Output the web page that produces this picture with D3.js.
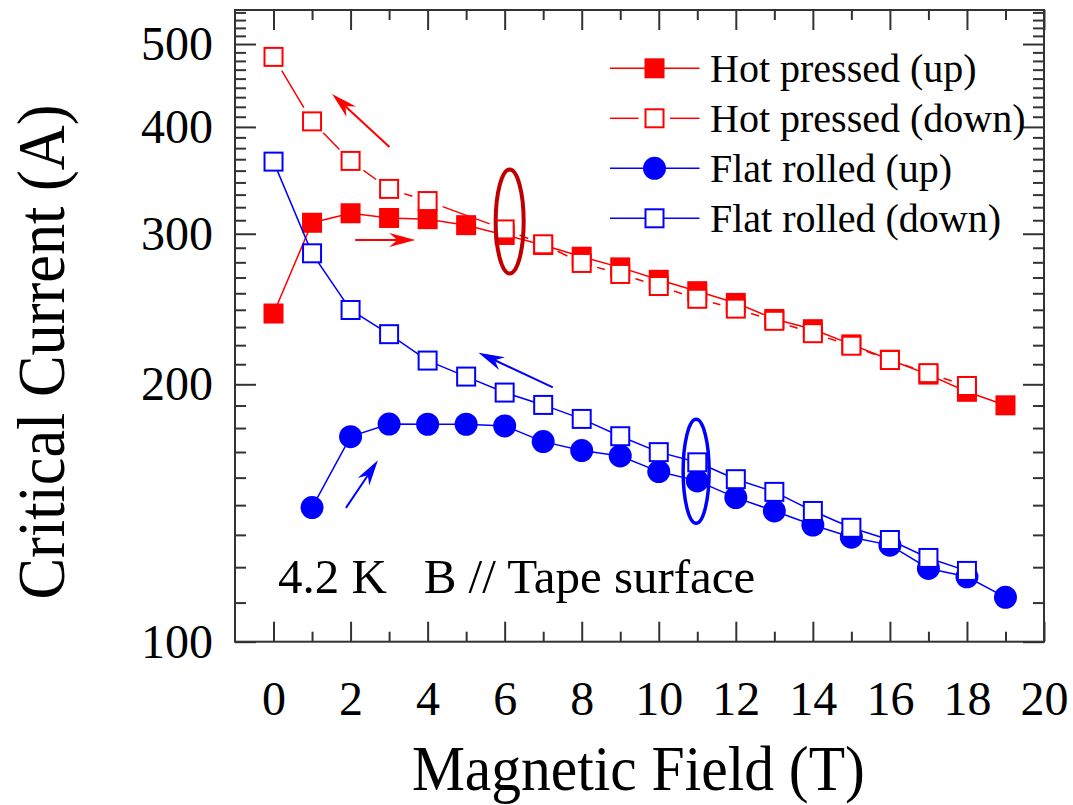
<!DOCTYPE html>
<html>
<head>
<meta charset="utf-8">
<script src="https://cdn.jsdelivr.net/npm/d3@7"></script>
<style>
  body { margin: 0; background: #fff; }
  svg { font-family: 'Liberation Serif', 'Times New Roman', serif; }
</style>
</head>
<body>
<div class="chart"></div>
<script>
// field values (T)
var fields = d3.range(0, 20);

// critical current (A), null = no point
var hotUp = [242, 309, 317, 313, 312, 307, 299, 291, 282, 274, 265, 257, 249, 238.5, 232, 222.7, 213.7, 205.3, 196, 189];
var hotDown = [483, 406, 365, 338.5, 327.6, null, 303.5, 291.6, 277.3, 269.2, 260.6, 251.8, 245.2, 237.3, 229.5, 221.9, 213.5, 206.1, 199.1, null];
var flatUp = [null, 143.5, 173.7, 179.7, 179.6, 179.6, 178.8, 171.4, 167.3, 164.9, 158.1, 154.2, 147.4, 142.2, 136.9, 132.5, 129.7, 121.8, 119.1, 112.7];
var flatDown = [364.3, 284.6, 244.3, 228.9, 213.2, 204.2, 195.6, 189.2, 182.2, 173.9, 166.6, 162.1, 154.9, 149.7, 142.2, 135.9, 131.5, 125.3, 121, null];

var seriesNames = ['Hot pressed (up)', 'Hot pressed (down)', 'Flat rolled (up)', 'Flat rolled (down)'];

var xMajor = d3.range(0, 21, 2);
var xMinor = d3.range(1, 20, 2);
var yMajor = [100, 200, 300, 400, 500];

// arrows [x1, y1, x2, y2] in data units, head at the second point
var redArrows = [[3.01, 379, 1.52, 437], [2.12, 295, 3.68, 295]];
var blueArrows = [[1.88, 143.4, 2.71, 163], [7.25, 198.4, 5.32, 217.8]];
// ellipse centres
var redOval = [6.13, 310];
var blueOval = [10.97, 158.2];

var W = 1073, H = 805;
var margin = { top: 10, left: 235, right: 29 };
var width = W - margin.left - margin.right;   // 809
var height = 631.7;

var RED = '#ff0000', BLUE = '#0000ff', AX = '#333';

var svg = d3.select('.chart').append('svg')
  .attr('width', W).attr('height', H);
var g = svg.append('g')
  .attr('transform', 'translate(' + margin.left + ',' + margin.top + ')');

var x = d3.scaleLinear().domain([-1, 20]).range([0, width]);
var y = d3.scaleLog().domain([100, 548]).range([height, 0]);

// minor y ticks: 8 per major step, linear in value
var yMinor = [];
yMajor.forEach(function (m) {
  for (var i = 1; i <= 8; i++) {
    var v = m + 100 * i / 9;
    if (v < 548) yMinor.push(v);
  }
});

function styleAxis(sel) {
  sel.select('.domain').remove();
  sel.selectAll('line').attr('stroke', AX).attr('stroke-width', 2);
  sel.selectAll('text').attr('fill', '#000').style('font-size', '48px')
    .style('font-family', "'Liberation Serif', 'Times New Roman', serif");
}

// bottom
g.append('g').attr('transform', 'translate(0,' + height + ')')
  .call(d3.axisBottom(x).tickValues(xMajor).tickSize(-20).tickPadding(39).tickFormat(d3.format('d')))
  .call(styleAxis);
g.append('g').attr('transform', 'translate(0,' + height + ')')
  .call(d3.axisBottom(x).tickValues(xMinor).tickSize(-10).tickFormat(''))
  .call(styleAxis);
// top
g.append('g')
  .call(d3.axisTop(x).tickValues(xMajor).tickSize(-20).tickFormat(''))
  .call(styleAxis);
g.append('g')
  .call(d3.axisTop(x).tickValues(xMinor).tickSize(-10).tickFormat(''))
  .call(styleAxis);
// left
g.append('g')
  .call(d3.axisLeft(y).tickValues(yMajor).tickSize(-21).tickPadding(22).tickFormat(d3.format('d')))
  .call(styleAxis);
g.append('g')
  .call(d3.axisLeft(y).tickValues(yMinor).tickSize(-11).tickFormat(''))
  .call(styleAxis);
// right
g.append('g').attr('transform', 'translate(' + width + ',0)')
  .call(d3.axisRight(y).tickValues(yMajor).tickSize(-21).tickFormat(''))
  .call(styleAxis);
g.append('g').attr('transform', 'translate(' + width + ',0)')
  .call(d3.axisRight(y).tickValues(yMinor).tickSize(-11).tickFormat(''))
  .call(styleAxis);

g.append('rect')
  .attr('width', width).attr('height', height)
  .attr('fill', 'none').attr('stroke', AX).attr('stroke-width', 2);

function pts(vals) {
  return fields.map(function (f, i) { return { f: f, v: vals[i] }; })
    .filter(function (d) { return d.v != null; });
}

var line = d3.line()
  .x(function (d) { return x(d.f); })
  .y(function (d) { return y(d.v); });

// lines with a gap around each marker
function gappedLine(sel, data, color, trim) {
  for (var i = 0; i < data.length - 1; i++) {
    var x1 = x(data[i].f), y1 = y(data[i].v), x2 = x(data[i + 1].f), y2 = y(data[i + 1].v);
    var dx = x2 - x1, dy = y2 - y1, len = Math.sqrt(dx * dx + dy * dy);
    if (len <= 2 * trim) continue;
    var ux = dx / len, uy = dy / len;
    sel.append('line')
      .attr('x1', x1 + ux * trim).attr('y1', y1 + uy * trim)
      .attr('x2', x2 - ux * trim).attr('y2', y2 - uy * trim)
      .attr('stroke', color).attr('stroke-width', 1.5);
  }
}

function squares(data, cls, size, fill, stroke) {
  g.selectAll('.' + cls).data(data).enter().append('rect')
    .attr('class', cls)
    .attr('x', function (d) { return x(d.f) - size / 2; })
    .attr('y', function (d) { return y(d.v) - size / 2; })
    .attr('width', size).attr('height', size)
    .attr('fill', fill)
    .attr('stroke', stroke)
    .attr('stroke-width', stroke === 'none' ? 0 : 2);
}

// Hot pressed (up)
var hu = pts(hotUp);
g.append('path').attr('d', line(hu)).attr('fill', 'none').attr('stroke', RED).attr('stroke-width', 1.5);
squares(hu, 'hu', 20, RED, 'none');

// Hot pressed (down)
var hd = pts(hotDown);
gappedLine(g.append('g'), hd, RED, 16);
squares(hd, 'hd', 18, '#fff', RED);

// Flat rolled (up)
var fu = pts(flatUp);
g.append('path').attr('d', line(fu)).attr('fill', 'none').attr('stroke', BLUE).attr('stroke-width', 1.5);
g.selectAll('.fu').data(fu).enter().append('circle')
  .attr('class', 'fu')
  .attr('cx', function (d) { return x(d.f); })
  .attr('cy', function (d) { return y(d.v); })
  .attr('r', 11.5)
  .attr('fill', BLUE);

// Flat rolled (down)
var fd = pts(flatDown);
g.append('path').attr('d', line(fd)).attr('fill', 'none').attr('stroke', BLUE).attr('stroke-width', 1.5);
squares(fd, 'fd', 18, '#fff', BLUE);

// ovals
g.append('ellipse')
  .attr('cx', x(redOval[0])).attr('cy', y(redOval[1]))
  .attr('rx', 14).attr('ry', 52)
  .attr('fill', 'none').attr('stroke', '#c00000').attr('stroke-width', 4);
g.append('ellipse')
  .attr('cx', x(blueOval[0])).attr('cy', y(blueOval[1]))
  .attr('rx', 13).attr('ry', 52)
  .attr('fill', 'none').attr('stroke', BLUE).attr('stroke-width', 3.5);

// arrows
function arrow(a, color) {
  var x1 = x(a[0]), y1 = y(a[1]), x2 = x(a[2]), y2 = y(a[3]);
  var ang = Math.atan2(y2 - y1, x2 - x1);
  var L = 26, hw = 7, notch = 18;
  function p(dl, dw) {
    return [x2 + Math.cos(ang) * dl - Math.sin(ang) * dw,
            y2 + Math.sin(ang) * dl + Math.cos(ang) * dw];
  }
  var nb = p(-notch, 0);
  g.append('line')
    .attr('x1', x1).attr('y1', y1).attr('x2', nb[0]).attr('y2', nb[1])
    .attr('stroke', color).attr('stroke-width', 2);
  g.append('polygon')
    .attr('points', [p(0, 0), p(-L, hw), nb, p(-L, -hw)].map(function (q) { return q.join(','); }).join(' '))
    .attr('fill', color);
}
redArrows.forEach(function (a) { arrow(a, RED); });
blueArrows.forEach(function (a) { arrow(a, BLUE); });

// annotation
g.append('text')
  .attr('x', x(-1) + 43).attr('y', 592.7 - margin.top)
  .style('font-size', '49px')
  .style('white-space', 'pre')
  .text('4.2 K   B // Tape surface');

// legend
var leg = svg.append('g').attr('transform', 'translate(610,68.3)');
seriesNames.forEach(function (name, i) {
  var row = leg.append('g').attr('transform', 'translate(0,' + (i * 50) + ')');
  var color = i < 2 ? RED : BLUE;
  if (i === 1) {
    row.append('line').attr('x1', 0).attr('x2', 28.5).attr('stroke', color).attr('stroke-width', 1.5);
    row.append('line').attr('x1', 60).attr('x2', 89.5).attr('stroke', color).attr('stroke-width', 1.5);
  } else {
    row.append('line').attr('x1', 0).attr('x2', 89.5).attr('stroke', color).attr('stroke-width', 1.5);
  }
  if (i === 0) {
    row.append('rect').attr('x', 34.5).attr('y', -10).attr('width', 20).attr('height', 20).attr('fill', RED);
  } else if (i === 2) {
    row.append('circle').attr('cx', 44.5).attr('r', 11.5).attr('fill', BLUE);
  } else {
    row.append('rect').attr('x', 35.5).attr('y', -9).attr('width', 18).attr('height', 18)
      .attr('fill', '#fff').attr('stroke', color).attr('stroke-width', 2);
  }
  row.append('text').attr('x', 100).attr('y', 13.4)
    .style('font-size', '40px').text(name);
});

// axis titles
svg.append('text')
  .attr('x', 638.4).attr('y', 790)
  .attr('text-anchor', 'middle')
  .attr('textLength', 453).attr('lengthAdjust', 'spacingAndGlyphs')
  .style('font-size', '63px')
  .text('Magnetic Field (T)');

svg.append('text')
  .attr('transform', 'translate(64,352) rotate(-90)')
  .attr('text-anchor', 'middle')
  .attr('textLength', 495).attr('lengthAdjust', 'spacingAndGlyphs')
  .style('font-size', '68px')
  .text('Critical Current (A)');
</script>
</body>
</html>
